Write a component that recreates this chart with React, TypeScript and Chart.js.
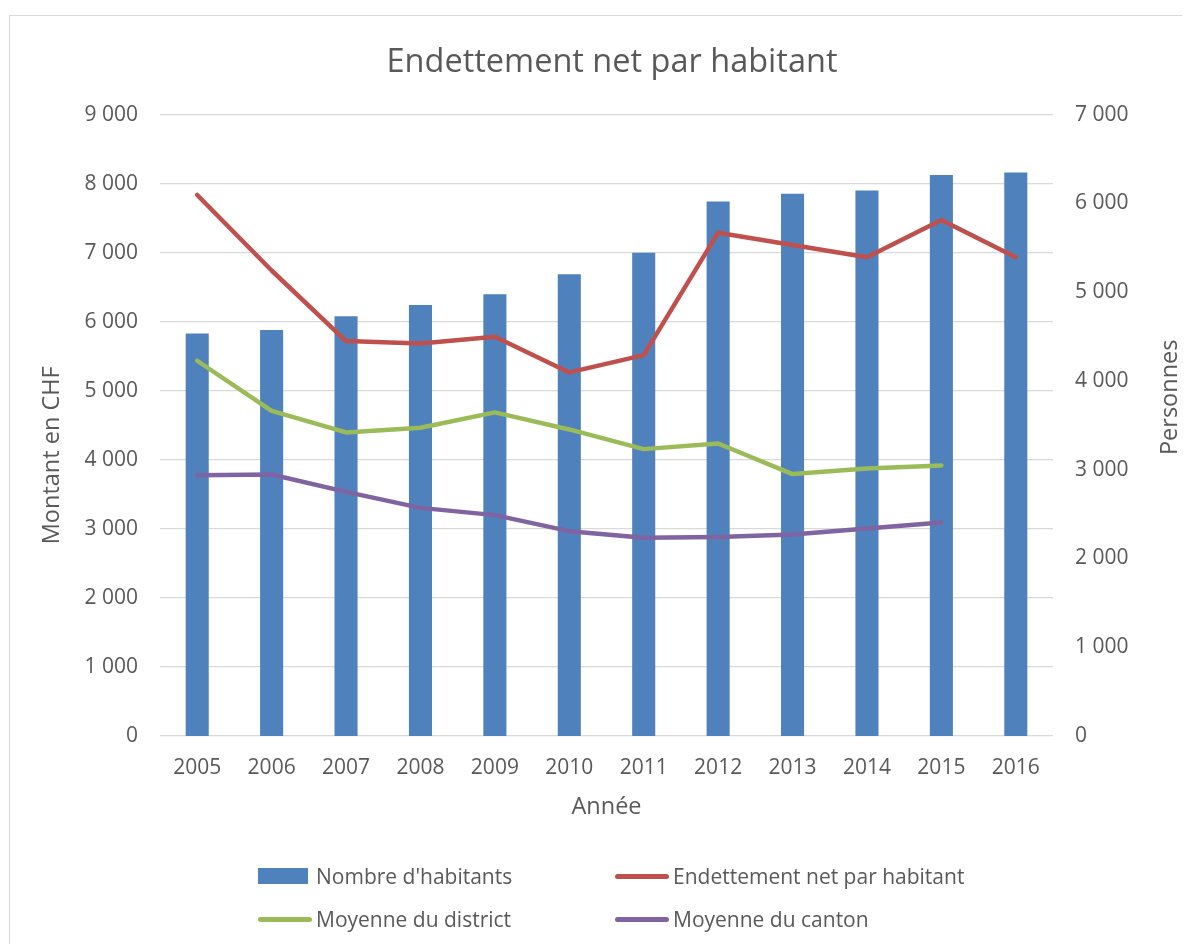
import React, { useEffect, useRef } from "react";
import { Chart, registerables } from "chart.js";

Chart.register(...registerables);

const years = ["2005", "2006", "2007", "2008", "2009", "2010", "2011", "2012", "2013", "2014", "2015", "2016"];
const habitants = [4535, 4574, 4728, 4856, 4976, 5202, 5445, 6020, 6107, 6144, 6321, 6347];
const endettement = [7836, 6742, 5720, 5686, 5783, 5266, 5517, 7290, 7111, 6933, 7474, 6933];
const moyenneDistrict = [5435, 4710, 4397, 4464, 4687, 4440, 4155, 4237, 3793, 3875, 3919, null];
const moyenneCanton = [3778, 3788, 3536, 3304, 3199, 2967, 2870, 2884, 2920, 3006, 3093, null];

const titleText = "Endettement net par habitant";
const leftTitle = "Montant en CHF";
const rightTitle = "Personnes";
const xTitle = "Année";
const seriesNames = ["Nombre d'habitants", "Endettement net par habitant", "Moyenne du district", "Moyenne du canton"];
const colors = { blue: "#4F81BD", red: "#C0504D", green: "#9BBB59", purple: "#8064A2" };

const FONT = "'Open Sans', 'Liberation Sans', sans-serif";
const TXT = "#595959";
const TICK_SIZE = 21;
const AXIS_TITLE_SIZE = 23.5;

const fmt = (v: number | string) => {
  const n = Number(v);
  return String(n).replace(/\B(?=(\d{3})+(?!\d))/g, " ");
};

// Draws the two vertical axis titles, both reading bottom-to-top like the original.
const sideTitles = {
  id: "sideTitles",
  afterDraw(chart: any) {
    const { ctx, chartArea } = chart;
    const mid = (chartArea.top + chartArea.bottom) / 2;
    ctx.save();
    ctx.fillStyle = TXT;
    ctx.font = `${AXIS_TITLE_SIZE}px ${FONT}`;
    ctx.textAlign = "center";
    ctx.textBaseline = "middle";
    ctx.translate(chartArea.left - 108, mid + 30);
    ctx.rotate(-Math.PI / 2);
    ctx.fillText(leftTitle, 0, 0);
    ctx.restore();

    ctx.save();
    ctx.fillStyle = TXT;
    ctx.font = `${AXIS_TITLE_SIZE}px ${FONT}`;
    ctx.textAlign = "center";
    ctx.textBaseline = "middle";
    ctx.translate(chartArea.right + 117, mid - 28);
    ctx.rotate(-Math.PI / 2);
    ctx.fillText(rightTitle, 0, 0);
    ctx.restore();
  },
};

export default function App() {
  const ref = useRef<HTMLCanvasElement | null>(null);

  useEffect(() => {
    if (!ref.current) return;
    const lineCommon = {
      type: "line",
      borderWidth: 4.5,
      pointRadius: 0,
      borderJoinStyle: "round",
      borderCapStyle: "round",
      yAxisID: "y",
    };
    const chart = new Chart(ref.current, {
      type: "bar",
      data: {
        labels: years,
        datasets: [
          { ...lineCommon, label: seriesNames[1], data: endettement, borderColor: colors.red, backgroundColor: colors.red, order: 1 },
          { ...lineCommon, label: seriesNames[2], data: moyenneDistrict, borderColor: colors.green, backgroundColor: colors.green, order: 2 },
          { ...lineCommon, label: seriesNames[3], data: moyenneCanton, borderColor: colors.purple, backgroundColor: colors.purple, order: 3 },
          {
            type: "bar",
            label: seriesNames[0],
            data: habitants,
            backgroundColor: colors.blue,
            yAxisID: "y1",
            barPercentage: 0.62,
            categoryPercentage: 0.5,
            order: 4,
          },
        ] as any,
      },
      options: {
        animation: false,
        responsive: false,
        maintainAspectRatio: false,
        layout: { padding: { left: 26, right: 3, top: 0, bottom: 120 } },
        plugins: {
          legend: { display: false },
          tooltip: { enabled: false },
          title: {
            display: true,
            text: titleText,
            color: TXT,
            font: { family: FONT, size: 32.5, weight: "normal" },
            padding: { top: 27, bottom: 32.6 },
          },
        },
        scales: {
          x: {
            grid: { display: false },
            border: { display: false },
            ticks: { color: TXT, font: { family: FONT, size: TICK_SIZE }, padding: 11, maxRotation: 0 },
            title: { display: true, text: xTitle, color: TXT, font: { family: FONT, size: AXIS_TITLE_SIZE } },
            afterFit: (s: any) => { s.height = 89; },
          },
          y: {
            position: "left",
            min: 0,
            max: 9000,
            grid: { color: "#d9d9d9", lineWidth: 1.3, drawTicks: false },
            border: { display: false },
            ticks: { stepSize: 1000, color: TXT, font: { family: FONT, size: TICK_SIZE }, padding: 22, callback: (v: any) => fmt(v) },
            afterFit: (s: any) => { s.width = 124; },
          },
          y1: {
            position: "right",
            min: 0,
            max: 7000,
            grid: { display: false, drawTicks: false },
            border: { display: false },
            ticks: { stepSize: 1000, color: TXT, font: { family: FONT, size: TICK_SIZE }, padding: 22, callback: (v: any) => fmt(v) },
            afterFit: (s: any) => { s.width = 135; },
          },
        },
      } as any,
      plugins: [sideTitles],
    });
    return () => chart.destroy();
  }, []);

  const legendItem = (name: string, color: string, kind: "box" | "line", left: number, top: number) => (
    <div
      key={name}
      style={{ position: "absolute", left, top, display: "flex", alignItems: "center", height: 26, transform: "translateY(-13px)" }}
    >
      {kind === "box" ? (
        <div style={{ width: 50, height: 16, background: color, marginRight: 8 }} />
      ) : (
        <div style={{ width: 54, height: 5, background: color, borderRadius: 3, marginRight: 4 }} />
      )}
      <span style={{ fontFamily: FONT, fontSize: 21, color: TXT, whiteSpace: "nowrap" }}>{name}</span>
    </div>
  );

  return (
    <div style={{ width: 1182, height: 936, overflow: "hidden", position: "relative" }}>
      <div
        style={{
          position: "absolute",
          left: 1,
          top: 7,
          width: 1200,
          height: 1000,
          border: "1px solid #d9d9d9",
          background: "#fff",
        }}
      >
        <canvas ref={ref} width={1181} height={929} style={{ display: "block", width: 1181, height: 929 }} />
        {legendItem(seriesNames[0], colors.blue, "box", 248, 860)}
        {legendItem(seriesNames[1], colors.red, "line", 605, 860)}
        {legendItem(seriesNames[2], colors.green, "line", 248, 903)}
        {legendItem(seriesNames[3], colors.purple, "line", 605, 903)}
      </div>
    </div>
  );
}
